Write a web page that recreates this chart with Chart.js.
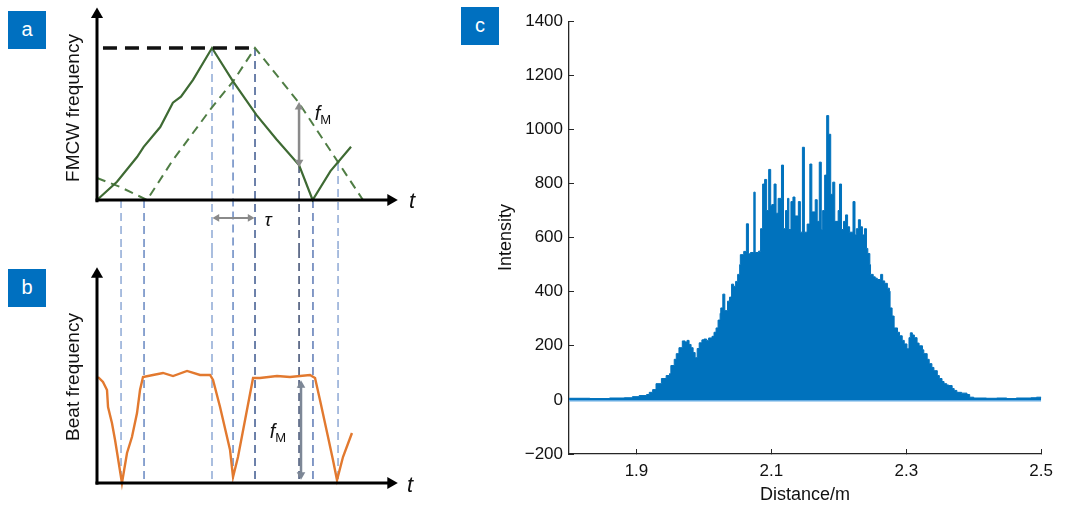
<!DOCTYPE html>
<html>
<head>
<meta charset="utf-8">
<script src="https://cdn.jsdelivr.net/npm/chart.js@4.4.1/dist/chart.umd.min.js"></script>
<style>
html,body{margin:0;padding:0;background:#fff;}
body{width:1065px;height:506px;overflow:hidden;font-family:"Liberation Sans",Arial,sans-serif;}
.wrap{position:relative;width:1065px;height:506px;}
canvas{position:absolute;}
.tag{position:absolute;width:38px;height:38px;background:#0070C0;color:#fff;font-size:20px;line-height:36px;text-align:center;}
.lbl{position:absolute;white-space:nowrap;color:#111;transform:translate(-50%,-50%);line-height:1;}
.rot{transform:translate(-50%,-50%) rotate(-90deg);font-size:19px;}
.it{font-style:italic;}
sub{font-size:13px;font-style:normal;vertical-align:-4px;}
</style>
</head>
<body>
<div class="wrap">
  <canvas id="ca" width="420" height="250" style="left:0;top:0"></canvas>
  <canvas id="cb" width="420" height="256" style="left:0;top:250px"></canvas>
  <canvas id="cc" width="605" height="506" style="left:460px;top:0"></canvas>

  <div class="tag" style="left:8px;top:11px">a</div>
  <div class="tag" style="left:8px;top:269px">b</div>
  <div class="tag" style="left:461px;top:7px">c</div>

  <div class="lbl rot" style="left:72px;top:108px">FMCW frequency</div>
  <div class="lbl rot" style="left:72px;top:377px">Beat frequency</div>
  <div class="lbl it" style="left:412px;top:201px;font-size:22px">t</div>
  <div class="lbl it" style="left:410px;top:485px;font-size:22px">t</div>
  <div class="lbl it" style="left:268px;top:219px;font-size:19px">τ</div>
  <div class="lbl" style="left:323px;top:114px;font-size:20px"><span class="it">f</span><sub>M</sub></div>
  <div class="lbl" style="left:278px;top:432px;font-size:20px"><span class="it">f</span><sub>M</sub></div>
</div>

<script>
// ================= DATA =================
// Panel a: FMCW frequency vs time (schematic units)
const aSolidT = [0, 0.174, 0.348, 0.406, 0.55, 0.66, 0.73, 0.835, 1.0, 1.183, 1.386, 1.56, 1.757, 1.875, 2.03, 2.209];
const aSolidF = [0, 0.12, 0.283, 0.35, 0.48, 0.64, 0.68, 0.79, 1.0, 0.78, 0.56, 0.40, 0.23, 0, 0.19, 0.35];
const aDashT  = [0, 0.2, 0.435, 0.66, 1.0, 1.183, 1.374, 1.75, 2.096, 2.313];
const aDashF  = [0.145, 0.086, 0, 0.263, 0.61, 0.78, 1.0, 0.645, 0.249, 0];
const aMaxT   = [0.052, 1.357];   // black dashed maximum-frequency line
const aMaxF   = [1.0, 1.0];
// Vertical guide lines: time and top of the guide in panel a
const guideT    = [0.209, 0.409, 1.0, 1.183, 1.374, 1.757, 1.878, 2.096];
const guideTopA = [0, 0, 1.0, 0.78, 1.0, 0.23, 0, 0.243];
const guideCol  = ['#86A3D2', '#5B7EBD', '#86A3D2', '#5B7EBD', '#2F4C86', '#2E3F66', '#4F6FAF', '#86A3D2'];
// tau arrow and fM arrow in panel a
const tauT = [1.043, 1.331], tauF = [-0.118, -0.118];
const fmAT = [1.757, 1.757], fmAF = [0.612, 0.248];

// Panel b: beat frequency vs time
const bT = [0.009, 0.052, 0.087, 0.096, 0.130, 0.157, 0.217, 0.261, 0.304, 0.348, 0.374, 0.400, 0.487, 0.574, 0.661, 0.783, 0.896, 0.983,
            1.009, 1.070, 1.157, 1.183, 1.226, 1.304, 1.357, 1.417, 1.565, 1.678, 1.852, 1.896, 1.939, 2.009, 2.052, 2.087, 2.139, 2.217];
const bF = [1.0, 0.953, 0.877, 0.717, 0.566, 0.406, 0, 0.283, 0.434, 0.660, 0.877, 1.0, 1.019, 1.038, 1.009, 1.057, 1.019, 1.019,
            0.972, 0.717, 0.311, 0.057, 0.245, 0.689, 0.991, 0.991, 1.009, 1.0, 1.019, 0.991, 0.783, 0.434, 0.217, 0.028, 0.245, 0.472];
const fmBT = [1.774, 1.774], fmBF = [0.923, 0.077];

// Panel c: intensity vs distance
const distance = [1.800,1.831,1.860,1.882,1.894,1.904,1.915,1.919,1.924,1.929,1.937,1.944,1.949,1.951,1.956,1.959,1.963,1.968,1.972,1.975,
  1.978,1.981,1.984,1.987,1.990,1.993,1.997,2.000,2.004,2.007,2.012,2.015,2.018,2.021,2.024,2.025,2.028,2.031,2.035,2.038,
  2.041,2.044,2.047,2.050,2.053,2.054,2.059,2.063,2.066,2.069,2.074,2.076,2.081,2.084,2.087,2.090,2.093,2.096,2.099,2.101,
  2.104,2.107,2.110,2.115,2.118,2.121,2.124,2.126,2.129,2.132,2.135,2.140,2.143,2.146,2.149,2.153,2.157,2.160,2.165,2.168,
  2.171,2.174,2.176,2.179,2.182,2.185,2.188,2.191,2.194,2.199,2.201,2.204,2.207,2.210,2.213,2.216,2.221,2.224,2.226,2.229,
  2.232,2.235,2.238,2.241,2.243,2.246,2.247,2.251,2.254,2.257,2.262,2.265,2.268,2.272,2.275,2.276,2.279,2.282,2.287,2.290,
  2.294,2.297,2.301,2.304,2.306,2.309,2.312,2.316,2.319,2.324,2.326,2.331,2.334,2.338,2.341,2.346,2.349,2.353,2.356,2.360,
  2.363,2.368,2.371,2.375,2.382,2.390,2.394,2.400,2.419,2.434,2.449,2.463,2.485,2.493,2.500];
const intensity = [6,5,7,8,12,16,20,28,38,60,79,90,97,127,150,171,193,218,214,220,
  205,193,175,156,190,211,222,225,220,229,235,250,266,295,320,340,391,330,365,380,
  428,420,438,464,500,537,549,651,540,545,768,545,550,633,798,815,700,852,720,722,
  798,690,745,868,633,700,745,630,733,750,680,733,620,934,620,650,872,695,740,660,
  879,630,700,831,1051,982,760,805,660,700,798,630,660,684,640,620,733,610,633,666,
  640,610,633,560,541,500,464,455,450,445,464,440,431,413,402,340,310,266,250,237,
  220,207,189,230,248,240,230,210,200,185,171,150,134,120,108,90,79,68,60,55,
  53,42,35,28,25,20,10,7,6,7,5,7,8,10,6];
const xTicks = [1.9, 2.1, 2.3, 2.5];
const yTicks = [-200, 0, 200, 400, 600, 800, 1000, 1200, 1400];

// ================= DRAWING =================
const FONT = '"Liberation Sans", Arial, sans-serif';
const pts = (xs, ys) => xs.map((x, i) => ({x: x, y: ys[i]}));

// Panel frames (view windows of the schematic axes)
const T_MIN = -0.84348, T_MAX = 2.80870;
const A_MIN = -0.32895, A_MAX = 1.31579;
const B_MIN = -0.21698, B_MAX = 2.19811;

function lineDs(data, color, width, dash, extra) {
  return Object.assign({data: data, showLine: true, borderColor: color, backgroundColor: color,
    borderWidth: width, borderDash: dash || [], pointRadius: 0, fill: false, tension: 0}, extra || {});
}
function arrowDs(data, color, width, radii, rot) {
  return lineDs(data, color, width, [], {pointRadius: radii, pointStyle: 'triangle', pointRotation: rot,
    pointBackgroundColor: color, pointBorderColor: color, pointBorderWidth: 0});
}
function baseOpts(yMin, yMax) {
  return {
    responsive: false, animation: false, devicePixelRatio: 1, events: [],
    layout: {padding: 0, autoPadding: false},
    plugins: {legend: {display: false}, tooltip: {enabled: false}},
    scales: {
      x: {type: 'linear', display: false, min: T_MIN, max: T_MAX},
      y: {type: 'linear', display: false, min: yMin, max: yMax}
    }
  };
}

// ---- panel a ----
const aSets = [
  arrowDs(pts([0, 0], [-0.015, 1.22]), '#000', 3, [0, 7], [0, 0]),
  arrowDs(pts([-0.013, 2.555], [0, 0]), '#000', 3, [0, 7], [0, 90]),
  arrowDs(pts(fmAT, fmAF), '#8A8A8A', 2.5, [5, 5], [0, 180]),
  arrowDs(pts(tauT, tauF), '#8A8A8A', 2, [4.5, 4.5], [270, 90]),
  lineDs(pts(aMaxT, aMaxF), '#111', 3.5, [14, 8]),
  lineDs(pts(aSolidT, aSolidF), '#3E6A33', 2.2),
  lineDs(pts(aDashT, aDashF), '#4F7D44', 2, [9, 6])
];
guideT.forEach((t, i) => {
  aSets.push(lineDs(pts([t, t], [guideTopA[i], A_MIN]), guideCol[i], 1.4, [8, 5]));
});
new Chart(document.getElementById('ca'), {type: 'scatter', data: {datasets: aSets}, options: baseOpts(A_MIN, A_MAX)});

// ---- panel b ----
const bSets = [
  arrowDs(pts([0, 0], [-0.015, 1.97]), '#000', 3, [0, 7], [0, 0]),
  arrowDs(pts([-0.013, 2.555], [0, 0]), '#000', 3, [0, 7], [0, 90]),
  arrowDs(pts(fmBT, fmBF), '#7D8796', 2.5, [5, 5], [0, 180]),
  lineDs(pts(bT, bF), '#E2792F', 2.4)
];
guideT.forEach((t, i) => {
  bSets.push(lineDs(pts([t, t], [B_MAX, 0]), guideCol[i], 1.4, [8, 5]));
});
new Chart(document.getElementById('cb'), {type: 'scatter', data: {datasets: bSets}, options: baseOpts(B_MIN, B_MAX)});

// ---- panel c ----
const axisCol = '#262626';
new Chart(document.getElementById('cc'), {
  type: 'scatter',
  data: {datasets: [
    {data: pts(distance, intensity), showLine: true, stepped: true, fill: 'origin',
     backgroundColor: '#0072BD', borderColor: '#0072BD', borderWidth: 1, pointRadius: 0},
    {data: pts([1.8, 2.5], [0, 0]), showLine: true, borderColor: '#66ACE2', borderWidth: 3, pointRadius: 0, fill: false}
  ]},
  options: {
    responsive: false, animation: false, devicePixelRatio: 1, events: [],
    layout: {padding: {top: 18, right: 21, bottom: 0, left: 0}},
    plugins: {legend: {display: false}, tooltip: {enabled: false}},
    scales: {
      x: {
        type: 'linear', min: 1.8, max: 2.5,
        afterBuildTicks: s => { s.ticks = xTicks.map(v => ({value: v})); },
        afterFit: s => { s.height = 52; },
        ticks: {font: {size: 17, family: FONT}, color: '#111', padding: 12, maxRotation: 0, autoSkip: false,
                callback: v => Number(v).toFixed(1)},
        grid: {drawOnChartArea: false, drawTicks: true, tickLength: -5, color: axisCol, lineWidth: 1},
        border: {display: true, color: axisCol, width: 1.3},
        title: {display: true, text: 'Distance/m', font: {size: 18, family: FONT}, color: '#111', padding: {top: 0, bottom: 0}}
      },
      y: {
        type: 'linear', min: -200, max: 1400,
        afterBuildTicks: s => { s.ticks = yTicks.map(v => ({value: v})); },
        afterFit: s => { s.width = 109; },
        ticks: {font: {size: 17, family: FONT}, color: '#111', padding: 11, autoSkip: false,
                callback: v => v < 0 ? '\u2212' + Math.abs(v) : String(v)},
        grid: {drawOnChartArea: false, drawTicks: true, tickLength: -5, color: axisCol, lineWidth: 1},
        border: {display: true, color: axisCol, width: 1.3},
        title: {display: true, text: 'Intensity', font: {size: 18, family: FONT}, color: '#111', padding: {top: 35, bottom: 0}}
      }
    }
  }
});
</script>
</body>
</html>
